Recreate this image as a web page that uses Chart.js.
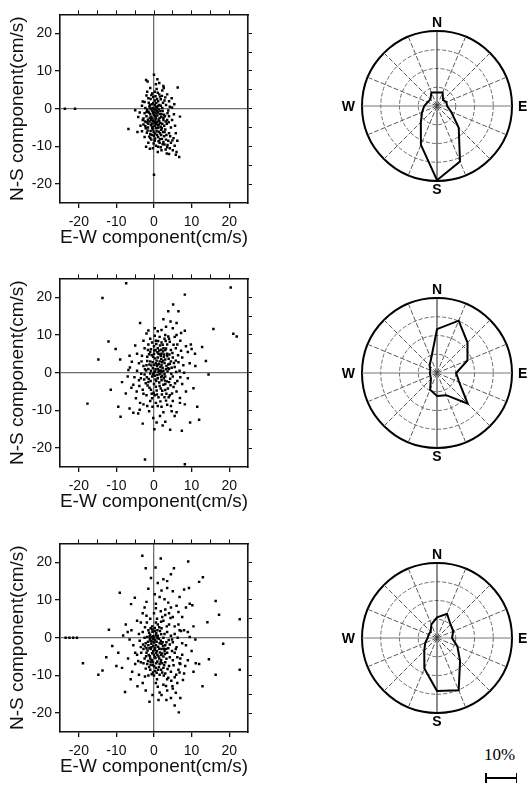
<!DOCTYPE html>
<html lang="en">
<head>
<meta charset="UTF-8" />
<title>Current velocity components and direction roses</title>
<script src="https://cdn.jsdelivr.net/npm/chart.js"></script>
<style>
  body { margin: 0; background: #fff; }
  .page { position: relative; width: 531px; height: 785px; overflow: hidden; }
  .page canvas { position: absolute; }
  .bar-label {
    position: absolute; left: 484px; top: 745px;
    font: 17px "Liberation Serif", "Times New Roman", serif; color: #000;
  }
  .bar {
    position: absolute; left: 485px; top: 773px; width: 29px; height: 10px;
    border-left: 2px solid #000; border-right: 1px solid #000;
  }
  .bar::after {
    content: ""; position: absolute; left: 0; right: 0; top: 4px; border-top: 2px solid #000;
  }
</style>
</head>
<body>
<div class="page">
  <canvas id="scatterA" width="260" height="250" style="left:0;top:3px"></canvas>
  <canvas id="scatterB" width="260" height="250" style="left:0;top:267px"></canvas>
  <canvas id="scatterC" width="260" height="250" style="left:0;top:532px"></canvas>
  <canvas id="roseA" width="201" height="201" style="left:337px;top:6px"></canvas>
  <canvas id="roseB" width="201" height="201" style="left:337px;top:273px"></canvas>
  <canvas id="roseC" width="201" height="201" style="left:337px;top:538px"></canvas>
  <div class="bar-label">10%</div>
  <div class="bar"></div>
</div>

<script>
  // axis ticks (cm/s)
  const X_TICKS = [-20, -10, 0, 10, 20];
  const Y_TICKS = [-20, -10, 0, 10, 20];
  const EDGE_TICKS = [-20, -15, -10, -5, 0, 5, 10, 15, 20];
  const AXIS_LIMIT = 25;

  // 16-point compass, clockwise from north
  const DIRECTIONS = ['N','NNE','NE','ENE','E','ESE','SE','SSE','S','SSW','SW','WSW','W','WNW','NW','NNW'];
  const CARDINALS = ['N', 'E', 'S', 'W'];

  // direction frequency (%) per sector
  const roseA = [3.6, 3.9, 2.3, 2.7, 2.7, 4.1, 8.2, 16.0, 19.8, 11.2, 6.1, 4.3, 3.4, 2.7, 2.5, 3.9];
  const roseB = [11.7, 15.1, 11.5, 8.8, 5.1, 6.4, 11.6, 6.4, 6.1, 4.8, 2.3, 1.9, 1.9, 1.9, 2.8, 4.1];
  const roseC = [5.5, 7.0, 5.1, 4.7, 4.0, 5.9, 8.7, 15.1, 14.1, 8.8, 4.8, 3.4, 2.5, 2.4, 2.4, 3.9];
  const RING_STEP = 5;
  const RING_MAX = 20;

  // [E-W, N-S] velocity samples (cm/s)
  const velA = [
    [-2.1,7.6],[-1.7,7.2],[0,9],[1.4,6.8],[2.5,6.0],[6.3,5.6],[0.7,5.2],[3.5,3.8],[4.7,2.8],[-1.5,2.8],
    [1.6,3.2],[-6.8,-5.4],[-5,-0.4],[6.9,-2.1],[6.7,-12.8],[6,-11.5],[3.4,-11.9],[-2.1,-10.1],[-1.1,-10.6],[0,-17.5],
    [-23.7,0],[-21,0],[0.2,4.5],[-0.5,4],[1,4.2],[2.2,4.8],[-1,5.5],[0.5,6.5],[1.8,2.5],[2.8,2.2],
    [-2.5,1.8],[-3.2,0.8],[-2,3.5],[3.2,1],[4.2,0.5],[4.8,0.3],[3.8,-0.5],[-3.8,-1],[-4.2,-2.2],[-3,-3],
    [0,0],[0.5,0.5],[-0.5,-0.5],[1,-1],[-1,-1.5],[0.3,-2],[1.5,-2.5],[-0.8,-3],[0.8,-3.5],[-1.5,-4],
    [0.2,-4.5],[1.2,-5],[-0.3,-5.5],[2,-1.5],[2.5,-3],[-2,-2],[-1.2,0.5],[1.8,0.8],[0.6,1.5],[-0.6,1.2],
    [1.3,-0.2],[-1.8,-0.3],[2.3,-0.6],[-2.5,-1.2],[0.9,-1.8],[-0.2,-1.2],[0.4,-2.8],[-1.1,-2.4],[1.7,-3.8],[-0.6,-3.9],
    [2.7,-4.5],[-2.2,-5.2],[0.7,-6],[1.6,-6.5],[-1,-6.8],[2.4,-6.2],[3,-5.5],[3.4,-4],[-2.8,-4.2],[-1.7,-5.8],
    [0,-7.2],[1.1,-7.5],[2.1,-8],[-0.7,-8.2],[3.3,-7],[4,-6.5],[4.5,-5],[3.8,-8.5],[4.5,-9],[5.2,-7.8],
    [5.5,-9.8],[4.2,-10.5],[5,-11],[2.8,-9.5],[1.5,-9],[0.5,-9.8],[-1.5,-9],[-2.5,-7.5],[-3.2,-6],[5.8,-6.5],
    [6.2,-8.5],[5.6,-4.5],[4.8,-3],[5.3,-1.5],[4,-2],[2.9,-2],[3.6,-1.2],[0.1,-0.8],[-0.4,0.2],[0.8,0.2],
    [1.4,1],[-1.4,1.6],[0.2,2.2],[-0.9,2.6],[1.1,2],[0.6,-1.3],[-0.7,-2.1],[1.9,-2.2],[-1.6,-2.9],[0.3,-3.4],
    [1.3,-4.2],[-0.4,-4.8],[-1.9,-3.6],[2.2,-4],[0.9,-5.1],[-0.9,-5.9],[1.9,-5.6],[-1.3,-7.4],[0.3,-6.6],[2.7,-7.3],
    [1.8,-10.2],[3.1,-10.8],[-0.3,-10.5],[2.4,1.6],[-2.3,0.2],[-3,1.9],[3,3],[4,2],[5.4,1.2],[3.5,-3],
    [-2.8,-2.6],[-3.6,-4.5],[-4.4,-6.2],[1,-11.5],[4,-12],[5.8,-12.2],[2.6,5.5],[0.9,7.8],[-0.2,3.1],[-1.8,4.5],
    [1.2,-8.6],[-0.1,-9.2],[2,-11],[3.6,-9.6],
    [0.4,-0.2],[-0.3,-0.9],[0.9,-0.9],[-0.9,-0.1],[0.2,0.9],[1.6,-1.4],[-1.3,-1.1],[0.5,-2.4],[-0.5,-2.6],[1.2,-2.9],
    [-1.2,-3.4],[0.1,-3.8],[1,-4.4],[-0.8,-4.4],[1.8,-4.8],[-1.6,-5],[0.5,-5.2],[-0.1,-6.1],[1.3,-6.1],[2.1,-5.2],
    [-0.6,-7],[0.8,-7],[1.9,-7],[-1.9,-6.4],[2.8,-6.2],[0.2,-8.5],[1.6,-8.1],[-1,-7.8],[2.5,-8.8],[3.2,-8.2],
    [0.7,-0.5],[1.1,0.7],[-0.2,1.5],[-1.1,0.9],[2.2,0.2],[-2,-0.9],[2.7,-1.6],[3.1,-3.4],[-2.4,-3.4],[1.4,-3.3],
    [-0.3,-3.2],[0.6,-4],[2.5,-2.4],[3.9,-3.6],[4.3,-7.3],[4.9,-8.4],[3.5,-10.2],[0.4,3.3],[1.4,3.8],[-0.7,3.6],
    [2.1,3.4],[0.8,2.6],[-1.5,-0.8],[0,-1.6],[1.7,-0.6],[-0.5,-5.1],[0.3,-7.9],[-2.3,-4.6],[2.3,-9.4],[1.1,-10.1]
  ];
  const velB = [
    [-7.4,23.7],[-13.7,19.8],[8.2,20.7],[20.4,22.6],[21.1,10.3],[22,9.6],[15.8,11.6],[13.8,3.1],[-12.1,8.3],[-10.2,6.3],
    [-3.7,13.2],[-2,10.4],[-14.8,3.5],[3.8,16.3],[5.1,18.1],[6.5,16.3],[2.5,14.2],[4.4,13.6],[6,13.2],[8.2,11.1],
    [-17.7,-8.2],[-8.9,-11.7],[-5.5,-10.6],[-4.2,-10.8],[-1.3,-10.2],[4.7,-10.2],[0.7,-13.2],[1.6,-11.5],[4.3,-15.1],[7.4,-15.4],
    [9.6,-13.2],[12,-12.5],[10.5,-4.1],[-2.4,-23],[8.2,-24.3],[0.1,-15],[10,6.3],[10.9,5],[6.9,-8],[8.2,-8.4],
    [6.9,-6.7],[-5.9,2.9],[-6.8,0.7],[-6.4,1.4],[-5.5,-3.2],[-4.6,-5],[-3.7,-8],[-2.8,-8.4],
    [1,11],[2,11.3],[3,10],[-1,9],[0.5,8.5],[4,9],[5.5,9.5],[7,8.5],[8.5,7],[9,5.5],
    [7.5,4],[9.5,2.5],[11,1.8],[8,0],[9,-1.5],[7.5,-3],[8.5,-5],[6,-5],[5,-7.5],[3.5,-8.5],
    [2,-9],[0.5,-8],[-1,-7.5],[-2,-6],[-3,-4.5],[-4,-2],[-4.5,0.5],[-4,2.5],[-3.2,4.5],[-2.5,6.5],
    [-1.5,7.5],[-4.5,5],[-2.8,8.5],[1.5,9.5],[3.2,12.2],[-6,-4],[-7,-1],[-8.5,-2.5],[-9.5,-9],[-6.5,-9.5],
    [-0.2,-12],[3,-13],[5.5,-11.5],[2.8,-6.5],[4.2,-6],[0.2,-6],[-0.8,-4.5],
    [0,0],[1,1],[2,2],[1.5,3],[0.5,2.5],[2.5,0.5],[3,3.5],[1,4],[2,5],[0,5],
    [-1,3],[-1.5,1],[-0.5,-1],[1,-1.5],[2,-2],[3,-1],[4,1],[4.5,3],[3.5,5],[2.5,6.5],
    [1,6.5],[0,7],[-1,5.5],[-2,2],[-2.5,-0.5],[-1.5,-2.5],[0,-3],[1.5,-3.5],[3,-3],[4,-2.5],
    [5,-1],[5.5,1.5],[5,4],[4.5,6],[3.5,7.5],[2,8],[-0.5,8],[0.3,3.8],[1.8,4.4],[2.8,2.6],
    [0.8,1.8],[-0.3,1.2],[1.2,0.2],[2.2,-0.8],[3.2,0.9],[0.6,-2.2],[-1,-0.2],[1.7,1.5],[2.4,3.2],[3.8,2.2],
    [4.6,-0.3],[3.7,-4.2],[2.2,-4.8],[0.7,-4.7],[-1.2,-4],[-2.2,-2.8],[-2.8,1.8],[-1.8,4.2],[-0.8,6.2],[0.2,9.8],
    [2.8,9],[4.2,8.2],[5.8,6.5],[6.5,2.8],[6.8,0.5],[6.2,-2.2],[5.2,-3.8],[4.8,-5.5],[1.2,-6.5],[-0.5,-6.8],
    [-2.8,-5.6],[-3.5,-1.5],[-3.3,3],[0.9,5.4],[1.6,7.2],[3,6],[2.1,2.8],[1.3,2.3],[0.4,0.9],[-0.2,-0.4],
    [2.9,-2.1],[3.5,4.4],[4.1,4.8],[-1.2,2.2],[-0.6,4.6],[5.8,3.2],[7.2,5.8],[6.2,7.5],[7.8,2],[7,-1.2],
    [1.9,-1.2],[0.9,-0.6],[1.4,5.9],[2.6,4.2],[3.3,1.8],[1.8,0.6],[0.1,2.1],[2.3,7.4],[-1.4,-1.7],[-2.1,0.6],
    [4.3,-1.6],[5.6,-2.8],[3.9,-6.5],[-0.1,-5.3],[1,-8.8],[2.5,-10.5],[-1.8,-8.8],[6,10],[-4.8,-6.8],[-3.8,-9.8],
    [0.3,0.3],[1.3,0.6],[2.3,1.3],[0.7,3.2],[1.9,3.6],[2.7,4.8],[1.2,5],[0.4,6],[-0.4,2.8],[-0.8,0.5],
    [0.2,-0.8],[1.5,-0.4],[2.6,-1.5],[3.6,0.3],[4.2,2.4],[3.9,3.7],[3.2,6.4],[1.9,6.1],[0.6,7.6],[-1.6,6],
    [-1.8,3.1],[-2.4,0.9],[-1.9,-1.2],[-0.9,-2.2],[0.4,-1.8],[1.4,-2.6],[2.5,-3.2],[3.4,-2.3],[4.7,1.3],[5.3,2.6],
    [4.9,5.2],[3.1,8.4],[1.1,8.4],[-0.2,4.2],[0.9,2.1],[2,0.1],[2.8,-0.3],[3.8,1.2],[1.6,4.9],[2.4,5.6],
    [0.1,5.9],[-1.3,4.9],[-0.7,1.9],[0.5,-3.7],[1.8,-4.2],[3,-4.6],[-1.7,-3.4],[-2.6,-1.8],[4.4,-3.3],[2.1,-5.8],
    [0.8,-5.8],[-0.6,-5.6],[3.3,-5.6],[5.9,0.2],[6.4,4.6],[5.2,7.4],[3.8,9.6],[-3.4,-0.3],[-3.9,-3.5],[1.7,-7.6],
    [3.2,-7.4],[-0.4,-9],[4.5,-8.8],[0.2,11.8],[-1.5,11.2],[5,11.8],[7.2,10.5],[9.8,7.5],[-5,7.2],[-6.5,4.5],
    [-5.2,-1.2],[-7.5,-5.5],[6,-10.5],[2.3,-14],[-3,-13.5],[11.5,-9],[12.8,6.8],[14.5,-0.5],[-9,3.5],[-11.5,-4.5]
  ];
  const velC = [
    [-3.1,21.7],[1.8,21],[-2.2,18.4],[0.4,18.6],[9.1,20.2],[5.3,18.4],[13,16],[12,14.8],[8,12.8],[9.3,13.2],
    [16.4,9.7],[17.3,6.1],[22.8,4.9],[14.2,4.1],[10.2,8.6],[-9.1,11.9],[-5.1,10.6],[-6.1,8.9],[-12,2.1],[-8.2,0.6],
    [-11.1,-2.2],[-12.7,-5.2],[-18.9,-6.8],[-13.7,-8.7],[-14.8,-9.8],[-7.7,-14.4],[-4.4,-12.9],[-4,-9.8],[-2.4,-10.3],[-6.9,-5.5],
    [-0.4,-15.2],[2,-15.2],[6.6,-19.8],[12.9,-12.9],[16.4,-9.8],[22.8,-8.5],[14.6,-5.7],[18.4,-1.6],[12,-7],[11.1,-6.8],
    [4.9,-12.9],[5.8,-14.6],[-23.5,0],[-22.5,0],[-21.5,0],[-20.5,0],
    [2.5,15.5],[3.5,15],[4.5,16.8],[1,14.5],[2,12.5],[0.5,9],[-1.5,13],[3.8,9.3],[4.5,8],[6,8.5],
    [8.5,8],[9.5,9],[6.5,6.8],[7.5,5.5],[-3,6.5],[-4.5,4.5],[-2.5,8],[1.5,10.8],[3,7.5],
    [8,2],[9.5,0.2],[11,-0.5],[8.5,-2],[10,-3.5],[7.5,-4.5],[9,-6],[7,-7],[6.5,-8.5],[8,-9.5],
    [5.5,-10.5],[6.2,-12],[3.5,-11],[2.5,-12.5],[1,-13],[3.5,-14],[4.5,-16],[1.2,-16.5],[7,-16],[5.5,-18],[0.8,-11],
    [-4.5,-4.5],[-5.5,-2],[-6,2],[-5,-7],[-3.5,-6.5],[-7.5,3.5],[-4,1],[-3.5,-2.5],[-8.5,-8],[-6.2,-11],[-3,-12],
    [0,0],[-0.5,-1],[0.5,-2],[1,0.5],[-1,0.8],[0.2,1.8],[-1.5,-2],[1.5,-1.5],[-0.8,-3],[0.8,-3.5],
    [2,-3],[-2,-4],[0,-4.5],[1.2,-5],[-1,-5.5],[2.5,-5],[-0.3,-6.5],[1.5,-7],[-1.8,-7],[0.5,-8],
    [2.5,-8],[-1,-8.5],[3,-6.5],[3.5,-4],[3,-2],[2.5,0],[3.5,1.5],[2,2.5],[1,3.5],[-0.5,3],
    [-1.5,2],[-2.5,0],[-2.2,-1.5],[-2.8,-3],[-2.5,-5.5],[-3,1.5],[0.8,5],[2.5,4.5],[-1,5],[4,3.5],
    [4.5,0.5],[4.2,-1.8],[4.8,-3.5],[5,-6],[4,-7.5],[4.5,-9],[3,-9.5],[1.5,-9.8],[0,-10],[-1.5,-10],
    [5.5,-4],[6,-2.5],[5.5,1],[6.5,3.5],[5,5.5],[3,6],[1.8,7],[0,6.5],
    [0.3,-0.6],[-0.2,0.4],[0.7,-1.1],[-0.7,-1.6],[1.1,-2.4],[-1.2,-2.8],[0.2,-3.2],[1.6,-3.9],[-0.5,-4.1],[0.9,-4.6],
    [-1.4,-4.6],[0.4,-5.4],[1.9,-5.9],[-0.6,-5.9],[2.2,-6.8],[0.9,-6.3],[-0.9,-7.2],[0.1,-7.6],[-0.2,-2.2],[1.3,-0.3],
    [-1.1,-0.4],[0.6,1.2],[-0.4,1.6],[1.6,1.8],[2.3,-1.2],[-1.8,0.2],[2.8,-3.6],[-2,-2.8],[3.3,-5.6],[1.4,2.8],
    [-0.9,2.5],[2.8,1],[-2.4,2.8],[0.5,4],[3.8,-2.8],[2.1,-4.2],[-1.6,-6.2],[1.1,-8.5],[2.2,-9.2],[-0.3,-9.2],
    [3.6,-8.3],[5.2,-7.3],[6.2,-5.2],[6.8,-6.8],[4.2,-5.2],[3.9,-0.6],[5,-1.2],[6.3,0],[0.2,2.6],[-2.8,-6.8],
    [-3.4,-4],[-3.8,-0.8],[1.9,4.2],[3.4,3],[4.4,5.2],[-1.9,4],[7.2,1.8],
    [0.1,-1.3],[-0.3,-0.3],[0.9,-0.1],[-0.9,-0.9],[0.5,0.6],[-0.6,0.1],[1.8,-0.8],[-1.6,-1.1],[0.3,-2.7],[-0.7,-2.5],
    [1.4,-2.9],[-1.7,-3.4],[0.6,-4],[-0.2,-3.6],[1.9,-4.6],[-1.1,-4.9],[0.2,-5.1],[1.4,-5.5],[-0.9,-6.4],[0.6,-6.8],
    [1.8,-6.4],[-0.3,-7.3],[1.3,-7.8],[-1.3,-7.8],[2.7,-7.3],[0.3,-8.8],[1.9,-8.5],[-2.2,-8.2],[2.9,-4.3],[2.4,-2.2],
    [-2.4,-2.3],[-2.1,-4.9],[-1.2,0.3],[0.9,2],[-0.5,2.2],[1.9,0.9],[2.6,-2.9],[-2.9,-1.8],[3.3,-1.2],[-1.3,1.3],
    [0.7,-9.3],[-0.6,-9.7],[2.6,-10],[3.8,-10.6],[4.6,-11.4],[5.9,-9.8],[6.8,-9.2],[7.7,-11.2],[5,-13.5],[3.2,-12.8],
    [7.5,-1.5],[9,1.5],[10.5,3],[7,-5.5],[8.3,-7.5],[10.5,-9],[-5,-4],[-4.2,-6.2],[-6.5,-0.5],[-7,1.5],
    [-9.5,-4],[-10,-7.5],[-5.8,-9],[-2.2,-14],[0.5,-12],[1.5,-14.5],[3.3,-16.5],[-1.2,-17],[-2,9.5],[0.2,11.5],
    [2.8,10.2],[5,12.3],[6.8,10.8],[3.5,13.2],[-0.8,15.8],[-3.5,4],[-2,5.8],[0.5,7.8],[2.2,5.5],[4,6.5],
    [5.5,3],[6.8,2],[4.8,-0.5],[5.8,-3],[3.2,-3],[2,-1.6]
  ];

  const SANS = '"Liberation Sans", Arial, Helvetica, sans-serif';
  const INK = '#111';
  const ZERO_LINE = '#6e6e6e';

  function setTicks(values) {
    return scale => { scale.ticks = values.map(v => ({ value: v })); };
  }

  // unlabelled top / right edge with short outward ticks
  function frameAxis(position, size) {
    const horizontal = position === 'top' || position === 'bottom';
    return {
      type: 'linear', position: position,
      min: -AXIS_LIMIT, max: AXIS_LIMIT,
      afterBuildTicks: setTicks(EDGE_TICKS),
      afterFit: horizontal ? s => { s.height = size; } : s => { s.width = size; },
      ticks: { display: false },
      grid: { drawOnChartArea: false, tickLength: 4, tickColor: INK, lineWidth: 1 },
      border: { color: INK, width: 1.6 }
    };
  }

  function labelledAxis(position, ticks, title, size) {
    const horizontal = position === 'bottom';
    return {
      type: 'linear', position: position,
      min: -AXIS_LIMIT, max: AXIS_LIMIT,
      afterBuildTicks: setTicks(ticks),
      afterFit: horizontal ? s => { s.height = size; } : s => { s.width = size; },
      ticks: { color: INK, font: { family: SANS, size: 14 }, padding: horizontal ? 6 : 3, maxRotation: 0 },
      grid: {
        color: c => (c.tick && c.tick.value === 0) ? ZERO_LINE : 'rgba(0,0,0,0)',
        lineWidth: 1.3, tickLength: 5, tickColor: INK
      },
      border: { color: INK, width: 1.6 },
      title: {
        display: true, text: title, color: INK,
        font: { family: SANS, size: 19 },
        padding: { top: 6, bottom: 4 }
      }
    };
  }

  function makeScatter(id, samples) {
    new Chart(document.getElementById(id), {
      type: 'scatter',
      data: {
        datasets: [{
          data: samples.map(p => ({ x: p[0], y: p[1] })),
          pointStyle: 'rect', pointRadius: 1.75, pointBorderWidth: 0,
          backgroundColor: '#000', borderColor: '#000'
        }]
      },
      options: {
        responsive: false, animation: false,
        layout: { padding: 0 },
        plugins: { legend: { display: false }, tooltip: { enabled: false } },
        scales: {
          x: labelledAxis('bottom', X_TICKS, 'E-W component(cm/s)', 50),
          y: labelledAxis('left', Y_TICKS, 'N-S component(cm/s)', 60),
          x2: frameAxis('top', 10),
          y2: frameAxis('right', 12)
        }
      }
    });
  }

  // N / E / S / W letters just outside the outer ring
  const cardinalLabels = {
    id: 'cardinalLabels',
    afterDraw(chart) {
      const r = chart.scales.r;
      const ctx = chart.ctx;
      const R = r.drawingArea;
      ctx.save();
      ctx.font = 'bold 14px ' + SANS;
      ctx.fillStyle = '#000';
      ctx.textBaseline = 'alphabetic';
      CARDINALS.forEach((txt, k) => {
        const i = k * 4;
        let p;
        if (txt === 'N') { p = r.getPointPosition(i, R + 4); ctx.textAlign = 'center'; }
        if (txt === 'S') { p = r.getPointPosition(i, R + 3); p.y += 10; ctx.textAlign = 'center'; }
        if (txt === 'E') { p = r.getPointPosition(i, R + 6); p.y += 5; ctx.textAlign = 'left'; }
        if (txt === 'W') { p = r.getPointPosition(i, R + 7); p.y += 5; ctx.textAlign = 'right'; }
        ctx.fillText(txt, p.x, p.y);
      });
      ctx.restore();
    }
  };

  function makeRose(id, freq) {
    new Chart(document.getElementById(id), {
      type: 'radar',
      data: {
        labels: DIRECTIONS,
        datasets: [{
          data: freq,
          borderColor: '#000', borderWidth: 2, fill: false,
          pointRadius: 0, tension: 0, borderJoinStyle: 'miter'
        }]
      },
      options: {
        responsive: false, animation: false,
        layout: { padding: 25 },
        plugins: { legend: { display: false }, tooltip: { enabled: false } },
        scales: {
          r: {
            min: 0, max: RING_MAX,
            ticks: { display: false, stepSize: RING_STEP },
            pointLabels: { display: false },
            grid: {
              circular: true,
              color: c => c.index === 4 ? '#000' : '#6a6a6a',
              lineWidth: c => c.index === 4 ? 2 : 1
            },
            border: { dash: c => c.index === 4 ? [] : [4, 2] },
            angleLines: {
              color: c => c.index === 0 || c.index === 8 ? '#1a1a1a' : (c.index % 4 === 0 ? '#777' : '#5a5a5a'),
              lineWidth: 1,
              borderDash: c => c.index % 4 === 0 ? [] : [5, 2]
            }
          }
        }
      },
      plugins: [cardinalLabels]
    });
  }

  makeScatter('scatterA', velA);
  makeScatter('scatterB', velB);
  makeScatter('scatterC', velC);
  makeRose('roseA', roseA);
  makeRose('roseB', roseB);
  makeRose('roseC', roseC);
</script>
</body>
</html>
